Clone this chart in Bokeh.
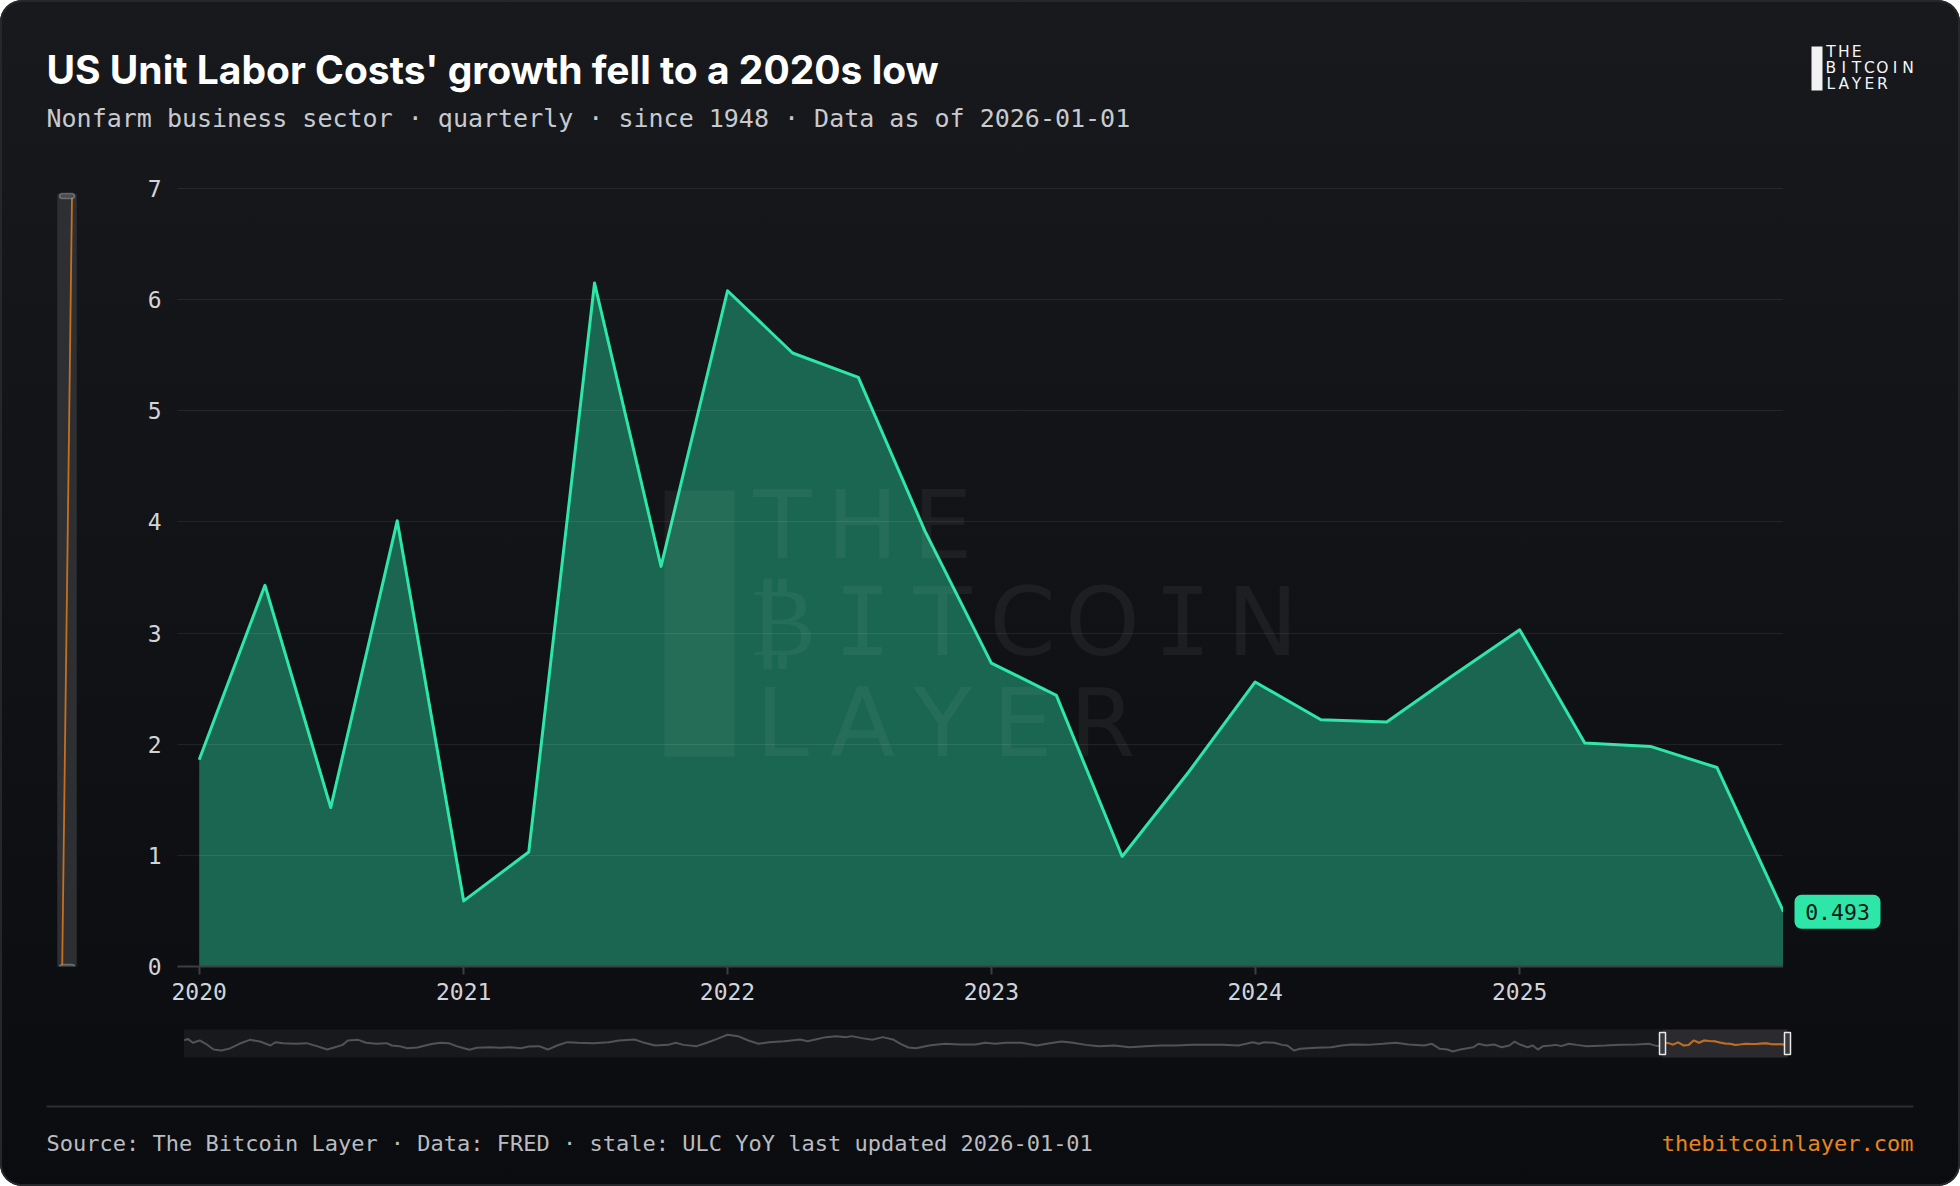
import numpy as np
import pandas as pd
from bokeh.plotting import figure
from bokeh.models import (Label, BoxAnnotation, PolyAnnotation, FixedTicker,
                          DatetimeTickFormatter, Range1d, ColumnDataSource)
from bokeh.layouts import column, row
from bokeh.embed import file_html
from bokeh.resources import INLINE

# ---------------- data ----------------
quarters = ["2020-01-01", "2020-04-01", "2020-07-01", "2020-10-01",
            "2021-01-01", "2021-04-01", "2021-07-01", "2021-10-01",
            "2022-01-01", "2022-04-01", "2022-07-01", "2022-10-01",
            "2023-01-01", "2023-04-01", "2023-07-01", "2023-10-01",
            "2024-01-01", "2024-04-01", "2024-07-01", "2024-10-01",
            "2025-01-01", "2025-04-01", "2025-07-01", "2025-10-01",
            "2026-01-01"]
ulc_yoy = [1.86, 3.43, 1.43, 4.01,
           0.59, 1.03, 6.15, 3.60,
           6.08, 5.52, 5.30, 3.92,
           2.73, 2.44, 0.99, 1.75,
           2.56, 2.22, 2.20, 2.62,
           3.03, 2.01, 1.98, 1.79,
           0.493]
x_tick_years = [2020, 2021, 2022, 2023, 2024, 2025]
y_ticks = [0, 1, 2, 3, 4, 5, 6, 7]

# full-history overview (navigator)
hist_years = [1949.01, 1949.18, 1949.43, 1949.75, 1950.05, 1950.42, 1950.79, 1951.16,
              1951.66, 1952.16, 1952.65, 1953.15, 1953.40, 1953.77, 1954.39, 1954.89,
              1955.38, 1955.88, 1956.25, 1956.62, 1956.87, 1957.37, 1957.74, 1958.23,
              1958.73, 1958.98, 1959.35, 1959.72, 1960.22, 1960.59, 1960.96, 1961.34,
              1961.71, 1962.08, 1962.70, 1963.07, 1963.69, 1964.19, 1964.69, 1965.18,
              1965.55, 1966.05, 1966.47, 1966.92, 1967.41, 1967.91, 1968.65, 1969.40,
              1969.89, 1970.64, 1971.01, 1971.63, 1972.25, 1972.62, 1972.99, 1973.62,
              1974.11, 1974.61, 1975.10, 1975.60, 1976.10, 1976.59, 1977.09, 1977.83,
              1978.58, 1978.95, 1979.32, 1979.82, 1980.31, 1980.81, 1981.06, 1981.55,
              1982.05, 1982.55, 1983.04, 1983.41, 1983.79, 1984.16, 1984.78, 1985.52,
              1986.27, 1987.01, 1987.47, 1987.97, 1988.46, 1989.21, 1989.95, 1990.57,
              1991.14, 1991.69, 1992.31, 1992.93, 1993.67, 1994.42, 1995.16, 1995.90,
              1996.65, 1997.39, 1998.14, 1998.88, 1999.63, 2000.00, 2000.32, 2000.62,
              2000.87, 2001.36, 2001.73, 2001.98, 2002.30, 2002.60, 2003.35, 2004.09,
              2004.59, 2005.08, 2005.83, 2006.57, 2007.19, 2007.81, 2008.56, 2008.93,
              2009.30, 2009.67, 2009.92, 2010.29, 2010.91, 2011.16, 2011.53, 2011.91,
              2012.28, 2012.65, 2012.90, 2013.15, 2013.52, 2013.77, 2014.01, 2014.26,
              2014.63, 2014.88, 2015.13, 2015.50, 2015.87, 2016.37, 2017.24, 2017.98,
              2018.73, 2019.35, 2019.75]
hist_vals = [6.1, 7.9, 3.5, 6.1, 2.4, -4.0, -5.1, -3.2,
             2.4, 6.8, 4.9, 0.5, 4.2, 3.1, 2.4, 3.1,
             -0.2, -4.0, -1.4, 1.2, 6.1, 6.8, 3.5, 2.4,
             3.1, 0.5, -0.2, -2.5, -1.7, 0.5, 2.4, 3.5,
             3.1, -0.2, -4.3, -2.1, -1.4, -2.1, -1.4, -2.5,
             -0.6, -0.2, -4.0, 0.5, 4.2, 3.5, 3.1, 4.2,
             6.1, 7.2, 4.2, 0.5, 1.2, 3.5, 1.2, -0.2,
             3.5, 7.9, 12.4, 10.9, 6.1, 2.4, 4.2, 5.3,
             7.2, 5.3, 7.2, 9.8, 10.9, 9.8, 10.9, 8.7,
             6.8, 9.8, 7.2, 2.4, -1.7, -2.5, 0.5, 2.4,
             1.6, 1.6, 3.5, 2.4, 3.5, 3.5, 0.5, 3.1,
             4.9, 3.5, 1.2, -0.2, 0.5, -1.4, -0.2, 0.5,
             0.5, 1.2, 1.2, 1.2, 0.5, 2.4, 4.2, 2.4,
             4.2, 3.5, 1.2, 0.5, -5.1, -3.2, -2.1, -1.4,
             0.5, 1.6, 1.2, 2.4, 3.5, 1.6, 0.5, 2.4,
             -3.2, -4.0, -6.2, -4.0, -1.4, 2.4, 0.5, 1.6,
             -1.4, 0.5, 4.9, 1.6, -1.4, 0.5, -4.0, -0.2,
             0.5, 1.2, -0.2, 2.4, 1.2, -0.2, 0.5, 1.2,
             1.6, 2.4, -0.2]

title_text = "US Unit Labor Costs' growth fell to a 2020s low"
subtitle_text = "Nonfarm business sector \u00b7 quarterly \u00b7 since 1948 \u00b7 Data as of 2026-01-01"
footer_text = "Source: The Bitcoin Layer \u00b7 Data: FRED \u00b7 stale: ULC YoY last updated 2026-01-01"
site_text = "thebitcoinlayer.com"

# ---------------- helpers ----------------
MONO = "DejaVu Sans Mono"
W, H = 1960, 1186


def ms(ts):
    return pd.Timestamp(ts).value / 1e6


def year_to_ts(y):
    yi = int(np.floor(y))
    return pd.Timestamp(year=yi, month=1, day=1) + pd.Timedelta(days=(y - yi) * 365.25)


def lab(fig, x, y, text, size, color, font="Inter", style="normal",
        align="left", baseline="middle", alpha=1.0):
    fig.add_layout(Label(x=x, y=y, x_units="canvas", y_units="canvas", text=text,
                         text_font=font, text_font_size=f"{size}px", text_color=color,
                         text_alpha=alpha, text_font_style=style, text_align=align,
                         text_baseline=baseline))


def box(fig, l, r, t, b, color, alpha=1.0, line=None, lw=1, radius=0, level="annotation"):
    fig.add_layout(BoxAnnotation(left=l, right=r, top=t, bottom=b,
                                 left_units="canvas", right_units="canvas",
                                 top_units="canvas", bottom_units="canvas",
                                 fill_color=color, fill_alpha=alpha,
                                 line_color=line, line_width=lw,
                                 border_radius=radius, level=level))


def blank(width, height, x_range=None, y_range=None, **kw):
    f = figure(width=width, height=height,
               x_range=x_range if x_range is not None else Range1d(0, width),
               y_range=y_range if y_range is not None else Range1d(0, height),
               x_axis_location=None, y_axis_location=None,
               output_backend="svg", toolbar_location=None, title=None,
               min_border=0, background_fill_color=None, border_fill_color=None,
               outline_line_color=None, **kw)
    f.grid.visible = False
    return f


# layout geometry (page pixels)
HEAD_H = 168
ROW_H = 1020 - HEAD_H
NAV_H = 55
FOOT_H = H - HEAD_H - ROW_H - NAV_H
LEFT_W = 100
FRAME_L, FRAME_R = 177, 1783
RIGHT_W = W - FRAME_R
TOP_B, BOT_B = 186 - HEAD_H, 54
PX_PER_UNIT = (ROW_H - TOP_B - BOT_B - 2) / 7.0

# ---------------- header ----------------
head = blank(W, HEAD_H)
lab(head, 46, 69, title_text, 39, "#ffffff", font="Inter", style="bold")
lab(head, 46, 118, subtitle_text, 25, "#c7cace", font=MONO)
box(head, 1811, 1822, 46, 90, "#f2f2f2")
for word, cy in [("THE", 51.5), ("BITCOIN", 67.5), ("LAYER", 83.5)]:
    for i, ch in enumerate(word):
        lab(head, 1830.4 + 12.85 * i, cy, ch, 15.5, "#f5f5f5", font="DejaVu Sans",
            align="center")

# ---------------- main chart ----------------
dates = pd.to_datetime(quarters)
src = ColumnDataSource(dict(x=dates, y=ulc_yoy))

x_end = dates[-1]
x_start = dates[0] - pd.Timedelta(days=30)
y_rng = Range1d(0, 7 + 2 / PX_PER_UNIT)

p = figure(width=FRAME_R - LEFT_W, height=ROW_H, x_axis_type="datetime",
           x_range=Range1d(x_start, x_end), y_range=y_rng,
           output_backend="svg", toolbar_location=None, title=None,
           min_border_left=FRAME_L - LEFT_W, min_border_right=0,
           min_border_top=TOP_B, min_border_bottom=BOT_B,
           background_fill_color=None, border_fill_color=None,
           outline_line_color=None)

p.varea(x="x", y1=0, y2="y", source=src, fill_color="#1b6650", fill_alpha=1.0)
p.line(x="x", y="y", source=src, line_color="#2ee6a6", line_width=3, line_join="round")

p.xaxis.ticker = FixedTicker(ticks=[ms(f"{yr}-01-01") for yr in x_tick_years])
p.xaxis.formatter = DatetimeTickFormatter(years="%Y", months="%Y", days="%Y")
p.xaxis.axis_line_color = "#3c3e43"
p.xaxis.axis_line_width = 2
p.xaxis.major_tick_line_color = "#3c3e43"
p.xaxis.major_tick_line_width = 2
p.xaxis.major_tick_out = 8
p.xaxis.major_tick_in = 0
p.xaxis.minor_tick_line_color = None
p.xaxis.major_label_standoff = 8

p.yaxis.ticker = FixedTicker(ticks=y_ticks)
p.yaxis.axis_line_color = None
p.yaxis.major_tick_line_color = None
p.yaxis.minor_tick_line_color = None
p.yaxis.major_label_standoff = 10

for ax in (p.xaxis, p.yaxis):
    ax.major_label_text_font = MONO
    ax.major_label_text_font_size = "23px"
    ax.major_label_text_color = "#d2d4d8"

p.xgrid.grid_line_color = None
p.ygrid.grid_line_color = "#ffffff"
p.ygrid.grid_line_alpha = 0.075
p.ygrid.grid_line_width = 1
p.ygrid.level = "guide"

# watermark (main canvas coords: page - (LEFT_W, HEAD_H))
ox, oy = LEFT_W, HEAD_H
box(p, 664 - ox, 734 - ox, 490 - oy, 756 - oy, "#ffffff", alpha=0.05)
for word, cy in [("THE", 524.5), ("\u20bfITCOIN", 621.5), ("LAYER", 722)]:
    for i, ch in enumerate(word):
        lab(p, 782 - ox + 80 * i, cy - oy, ch, 95, "#ffffff",
            font=MONO if ch == "I" else "DejaVu Sans",
            align="center", alpha=0.05)

# ---------------- left y-zoom slider ----------------
left = blank(LEFT_W, ROW_H)
box(left, 57, 76, 194 - oy, 969 - oy, "#2e2f33", line="#393a3e", lw=1)
left.add_layout(PolyAnnotation(xs=[60.8, 62.6, 72.4, 70.6],
                               ys=[966 - oy, 966 - oy, 196 - oy, 196 - oy],
                               xs_units="canvas", ys_units="canvas",
                               fill_color="#c4701f", fill_alpha=1.0, line_color=None))
box(left, 59, 74, 193 - oy, 198 - oy, "#4a4b4e", line="#e6e6e6", lw=1.5, radius=3)
box(left, 59, 74, 964 - oy, 969 - oy, "#4a4b4e", line="#e6e6e6", lw=1.5, radius=3)

# ---------------- right: last value tag ----------------
right = figure(width=RIGHT_W, height=ROW_H, x_range=Range1d(0, RIGHT_W), y_range=y_rng,
               x_axis_location=None, y_axis_location=None,
               output_backend="svg", toolbar_location=None, title=None,
               min_border_left=0, min_border_right=0,
               min_border_top=TOP_B, min_border_bottom=BOT_B,
               background_fill_color=None, border_fill_color=None,
               outline_line_color=None)
right.grid.visible = False
last_v = ulc_yoy[-1]
half = 17 / PX_PER_UNIT
right.add_layout(BoxAnnotation(left=11, right=97, top=last_v + half, bottom=last_v - half,
                               fill_color="#2ee6a8", fill_alpha=1.0, line_color=None,
                               border_radius=7))
right.add_layout(Label(x=54, y=last_v, text=f"{last_v:.3f}",
                       text_align="center", text_baseline="middle",
                       text_font=MONO, text_font_size="21.5px", text_color="#0b1a14"))

# ---------------- navigator ----------------
hist_dates = [year_to_ts(y) for y in hist_years]
all_dates = list(hist_dates) + list(dates)
all_vals = list(hist_vals) + list(ulc_yoy)

NAV_LO, NAV_HI = -12.83, 18.28          # value span of the overview band
BAND_T, BAND_B = 9, 37                  # band rows inside the nav strip
nav_ppu = (BAND_B - BAND_T) / (NAV_HI - NAV_LO)
nav_ppy = (1787 - 183.5) / 77.0          # pixels per year
nav_x0 = pd.Timestamp("1949-01-01") - pd.Timedelta(days=183.5 / nav_ppy * 365.25)
nav_x1 = pd.Timestamp("2026-01-01") + pd.Timedelta(days=(W - 1787) / nav_ppy * 365.25)
nav_y1 = NAV_HI + BAND_T / nav_ppu
nav_y0 = NAV_LO - (NAV_H - BAND_B) / nav_ppu

nav = figure(width=W, height=NAV_H, x_axis_type="datetime",
             x_range=Range1d(nav_x0, nav_x1), y_range=Range1d(nav_y0, nav_y1),
             x_axis_location=None, y_axis_location=None,
             output_backend="svg", toolbar_location=None, title=None,
             min_border=0, background_fill_color=None, border_fill_color=None,
             outline_line_color=None)
nav.grid.visible = False
nav.add_layout(BoxAnnotation(left=ms("1949-01-01"), right=ms(dates[-1]),
                             top=NAV_HI, bottom=NAV_LO,
                             fill_color="#18191d", fill_alpha=1.0,
                             line_color=None, level="underlay"))
nav.add_layout(BoxAnnotation(left=ms(dates[0]), right=ms(dates[-1]),
                             top=NAV_HI, bottom=NAV_LO,
                             fill_color="#2b2b2f", fill_alpha=1.0,
                             line_color=None, level="underlay"))
nav.line(x=all_dates, y=all_vals, line_color="#535356", line_width=2)
nav.line(x="x", y="y", source=src, line_color="#c06c1e", line_width=2)
mid = (NAV_LO + NAV_HI) / 2
nav.rect(x=[dates[0], dates[-1]], y=[mid, mid], width=6, height=22,
         width_units="screen", height_units="screen",
         fill_color="#3a3a3c", line_color="#e8e8e8", line_width=1.5)

# ---------------- footer ----------------
foot = blank(W, FOOT_H)
fy = HEAD_H + ROW_H + NAV_H
box(foot, 46, 1913, 1105 - fy, 1107 - fy, "#2c2e33")
lab(foot, 46, 1142.5 - fy, footer_text, 22, "#b9bcc1", font=MONO)
lab(foot, 1913, 1142.5 - fy, site_text, 22, "#e8861a", font=MONO, align="right")

layout = column(head, row(left, p, right, spacing=0), nav, foot, spacing=0,
                styles={"background": "linear-gradient(180deg, #17191d 0%, #0b0c0f 100%)",
                        "border-radius": "22px",
                        "box-shadow": "inset 0 0 0 2px #25272b",
                        "overflow": "hidden"})

open("out.html", "w").write(file_html(layout, INLINE))
